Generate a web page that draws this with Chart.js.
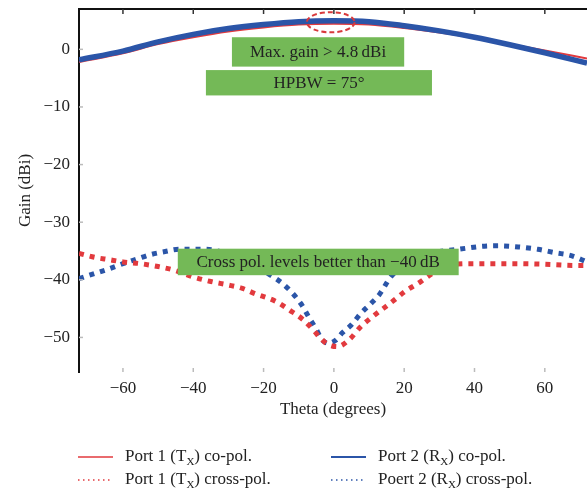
<!DOCTYPE html>
<html>
<head>
<meta charset="utf-8">
<script src="https://cdn.jsdelivr.net/npm/chart.js@4.4.1/dist/chart.umd.min.js"></script>
<style>
  html, body { margin: 0; padding: 0; background: #fff; }
</style>
</head>
<body>
<canvas id="myChart" width="587" height="494"></canvas>
<script>
// theta (deg) for the co-pol curves
const coTheta   = [-72.5, -60, -50, -40, -30, -20, -10, 0, 10, 20, 30, 40, 50, 60, 72];
const port1Co   = [-2.2, -0.7, 0.9, 2.1, 3.1, 3.8, 4.3, 4.45, 4.3, 3.7, 2.9, 2.0, 0.9, -0.2, -1.6];
const port2Co   = [-1.8, -0.3, 1.3, 2.6, 3.6, 4.3, 4.8, 4.95, 4.8, 4.1, 3.2, 2.1, 0.8, -0.6, -2.4];

// cross-pol curves
const cross1Theta = [-72.5, -68, -64, -60, -55, -50, -45, -40, -35, -30, -26, -22, -19, -16, -12.5, -9, -6, -4, -2, 1, 4.5, 7.7, 11, 14, 17, 20.5, 24, 28, 33, 40, 50, 60, 68, 72];
const port1Cross  = [-35.4, -36.1, -36.5, -36.9, -37.2, -37.7, -38.4, -39.5, -40.3, -40.9, -41.5, -42.5, -43.1, -43.9, -45.3, -46.8, -48.6, -50.0, -51.1, -51.6, -50.3, -48.1, -46.4, -45.0, -43.6, -41.9, -40.6, -38.9, -37.4, -37.2, -37.2, -37.3, -37.5, -37.5];
const cross2Theta = [-72.5, -68, -64, -60, -56, -52, -48, -44, -37, -30, -24, -18, -14.7, -11.5, -9.3, -7.2, -5, -3.5, -1.5, 0.5, 2.4, 5, 7.7, 10.4, 13, 16.3, 20, 25, 30, 35.5, 42, 47, 52.5, 58, 63, 67.5, 72];
const port2Cross  = [-39.8, -38.9, -38.1, -37.2, -36.4, -35.6, -35.1, -34.7, -34.7, -35.5, -37.0, -39.2, -40.6, -42.5, -44.2, -46.4, -48.6, -50.3, -51.0, -50.5, -49.2, -47.8, -45.8, -44.2, -42.5, -39.4, -37.5, -36.0, -35.1, -34.7, -34.2, -34.1, -34.3, -34.7, -35.3, -35.8, -36.9];

const thetaTicks = [-60, -40, -20, 0, 20, 40, 60];
const gainTicks  = [-50, -40, -30, -20, -10, 0];

// annotation boxes, in data units
const notes = [
  { text: 'Max. gain > 4.8\u2009dBi', x0: -29, x1: 20, y0: 2.1, y1: -3.0 },
  { text: 'HPBW = 75\u00b0', x0: -36.4, x1: 27.9, y0: -3.6, y1: -8.0 },
  { text: 'Cross pol. levels better than \u221240\u2009dB', x0: -44.4, x1: 35.5, y0: -34.6, y1: -39.2 }
];
const peakMark = { x: -0.9, y: 4.7, rx: 6.8, ry: 1.75 };

const RED = '#e23a3e';
const BLUE = '#2b55a8';
const SERIF = '"Liberation Serif", "DejaVu Serif", serif';

const fmt = v => (v < 0 ? '\u2212' + Math.abs(v) : String(v));
const pts = (xs, ys) => xs.map((x, i) => ({ x: x, y: ys[i] }));

const legendItems = [
  { pre: 'Port 1 (T', sub: 'X', post: ') co-pol.', color: RED, dotted: false, col: 0, row: 0 },
  { pre: 'Port 2 (R', sub: 'X', post: ') co-pol.', color: BLUE, dotted: false, col: 1, row: 0 },
  { pre: 'Port 1 (T', sub: 'X', post: ') cross-pol.', color: RED, dotted: true, col: 0, row: 1 },
  { pre: 'Poert 2 (R', sub: 'X', post: ') cross-pol.', color: BLUE, dotted: true, col: 1, row: 1 }
];

const extras = {
  id: 'extras',
  afterDatasetsDraw(chart) {
    const ctx = chart.ctx;
    const xs = chart.scales.x, ys = chart.scales.y;
    const a = chart.chartArea;
    ctx.save();

    // frame: top border + inner ticks
    ctx.strokeStyle = '#111';
    ctx.lineWidth = 2;
    ctx.beginPath();
    ctx.moveTo(a.left, a.top);
    ctx.lineTo(a.right, a.top);
    ctx.stroke();
    ctx.lineWidth = 1.5;
    ctx.strokeStyle = '#333';
    thetaTicks.forEach(t => {
      const px = xs.getPixelForValue(t);
      ctx.beginPath(); ctx.moveTo(px, a.top); ctx.lineTo(px, a.top + 5); ctx.stroke();
    });
    ctx.strokeStyle = '#bbb';
    thetaTicks.forEach(t => {
      const px = xs.getPixelForValue(t);
      ctx.beginPath(); ctx.moveTo(px, a.bottom); ctx.lineTo(px, a.bottom - 4); ctx.stroke();
    });
    gainTicks.forEach(g => {
      const py = ys.getPixelForValue(g);
      ctx.beginPath(); ctx.moveTo(a.left, py); ctx.lineTo(a.left + 4, py); ctx.stroke();
    });

    // green note boxes
    ctx.font = '17px ' + SERIF;
    ctx.textAlign = 'center';
    ctx.textBaseline = 'middle';
    notes.forEach(n => {
      const x0 = xs.getPixelForValue(n.x0), x1 = xs.getPixelForValue(n.x1);
      const y0 = ys.getPixelForValue(n.y0), y1 = ys.getPixelForValue(n.y1);
      ctx.fillStyle = '#74b957';
      ctx.fillRect(x0, y0, x1 - x0, y1 - y0);
      ctx.fillStyle = '#222';
      ctx.fillText(n.text, (x0 + x1) / 2, (y0 + y1) / 2 + 1);
    });

    // dashed ellipse at the peak
    const cx = xs.getPixelForValue(peakMark.x), cy = ys.getPixelForValue(peakMark.y);
    const rx = xs.getPixelForValue(peakMark.x + peakMark.rx) - cx;
    const ry = cy - ys.getPixelForValue(peakMark.y + peakMark.ry);
    ctx.strokeStyle = '#d8393c';
    ctx.lineWidth = 2;
    ctx.setLineDash([5, 3]);
    ctx.beginPath();
    ctx.ellipse(cx, cy, rx, ry, 0, 0, Math.PI * 2);
    ctx.stroke();
    ctx.setLineDash([]);
    ctx.restore();
  },
  afterDraw(chart) {
    // legend with subscripts
    const ctx = chart.ctx;
    ctx.save();
    const colX = [78, 331], rowY = [457, 480];
    legendItems.forEach(it => {
      const x = colX[it.col], y = rowY[it.row];
      ctx.strokeStyle = it.color;
      if (it.dotted) {
        ctx.lineWidth = 1.3;
        ctx.setLineDash([1.5, 3.5]);
      } else {
        ctx.lineWidth = it.color === BLUE ? 2 : 1.5;
        ctx.setLineDash([]);
      }
      ctx.beginPath(); ctx.moveTo(x, y); ctx.lineTo(x + 35, y); ctx.stroke();
      ctx.setLineDash([]);
      ctx.fillStyle = '#222';
      ctx.textBaseline = 'middle';
      ctx.textAlign = 'left';
      let tx = x + 47;
      ctx.font = '17px ' + SERIF;
      ctx.fillText(it.pre, tx, y);
      tx += ctx.measureText(it.pre).width;
      ctx.font = '11px ' + SERIF;
      ctx.fillText(it.sub, tx, y + 5);
      tx += ctx.measureText(it.sub).width;
      ctx.font = '17px ' + SERIF;
      ctx.fillText(it.post, tx, y);
    });
    ctx.restore();
  }
};

const ctx = document.getElementById('myChart').getContext('2d');
const myChart = new Chart(ctx, {
  type: 'line',
  data: {
    datasets: [
      { label: 'Port 1 (Tx) cross-pol.', data: pts(cross1Theta, port1Cross), borderColor: RED,
        borderWidth: 5, borderDash: [5, 6], order: 3 },
      { label: 'Poert 2 (Rx) cross-pol.', data: pts(cross2Theta, port2Cross), borderColor: BLUE,
        borderWidth: 5, borderDash: [5, 6], order: 4 },
      { label: 'Port 2 (Rx) co-pol.', data: pts(coTheta, port2Co), borderColor: BLUE,
        borderWidth: 5.5, order: 1 },
      { label: 'Port 1 (Tx) co-pol.', data: pts(coTheta, port1Co), borderColor: RED,
        borderWidth: 2, order: 2 }
    ]
  },
  options: {
    responsive: false,
    animation: false,
    elements: {
      point: { radius: 0 },
      line: { cubicInterpolationMode: 'monotone', borderCapStyle: 'butt', fill: false }
    },
    layout: { padding: { top: 0, left: 0, right: 0, bottom: 72 } },
    plugins: { legend: { display: false }, tooltip: { enabled: false } },
    scales: {
      x: {
        type: 'linear', min: -72.5, max: 72,
        afterBuildTicks: s => { s.ticks = thetaTicks.map(v => ({ value: v })); },
        afterFit: s => { s.height = 50; s.paddingLeft = 0; s.paddingRight = 0; },
        grid: { display: false, drawTicks: false },
        border: { display: false },
        ticks: { padding: 6, color: '#222', font: { family: SERIF, size: 17 }, callback: fmt, maxRotation: 0 },
        title: { display: true, text: 'Theta (degrees)', color: '#222', font: { family: SERIF, size: 17 },
                 padding: { top: 0, bottom: 2 } }
      },
      y: {
        type: 'linear', min: -56, max: 7,
        afterBuildTicks: s => { s.ticks = gainTicks.map(v => ({ value: v })); },
        afterFit: s => { s.width = 79; s.paddingTop = 9; s.paddingBottom = 0; },
        grid: { display: false, drawTicks: false },
        border: { display: true, color: '#111', width: 2 },
        ticks: { padding: 9, color: '#222', font: { family: SERIF, size: 17 }, callback: fmt },
        title: { display: true, text: 'Gain (dBi)', color: '#222', font: { family: SERIF, size: 17 },
                 padding: { top: 15, bottom: 0 } }
      }
    }
  },
  plugins: [extras]
});
</script>
</body>
</html>
